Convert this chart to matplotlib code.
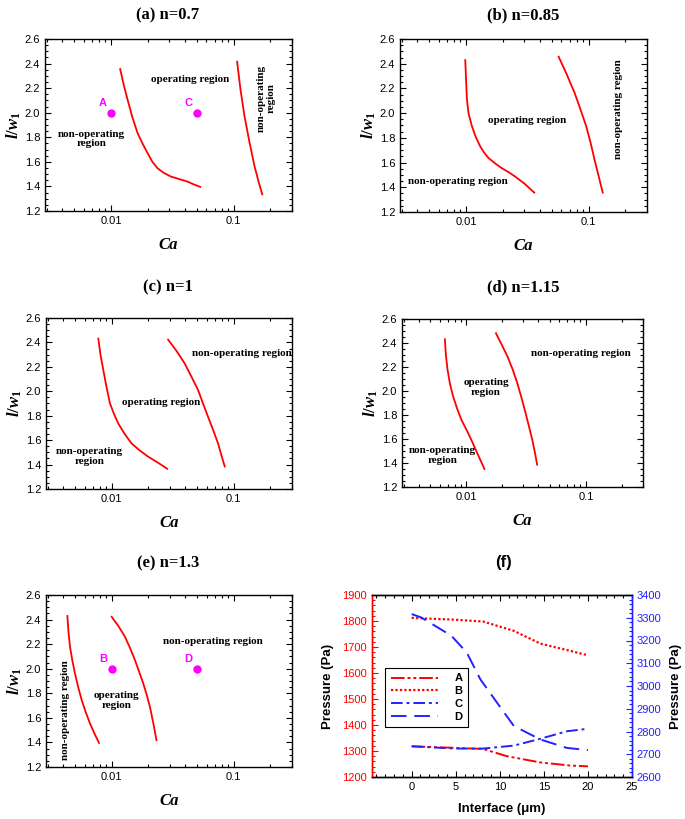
import matplotlib

matplotlib.use("Agg")

import matplotlib.pyplot as plt
from matplotlib.ticker import LogLocator, MultipleLocator, NullFormatter

plt.rcParams["font.family"] = ["Liberation Sans", "DejaVu Sans"]
plt.rcParams["mathtext.fontset"] = "custom"
plt.rcParams["mathtext.it"] = "Liberation Serif:bold:italic"
plt.rcParams["mathtext.rm"] = "Liberation Serif:bold"
plt.rcParams["mathtext.default"] = "it"

SERIF = "Liberation Serif"
RED = "#ff0000"
BLUE = "#2222ff"
MAG = "#ff00ff"

# ---- panel data: (Ca, l/w1) boundary curves ----
a_left_ca = [0.0119, 0.0127, 0.01368, 0.0150, 0.01652, 0.0182, 0.01995, 0.0218,
             0.0240, 0.027, 0.0309, 0.036, 0.0423, 0.047, 0.0535]
a_left_lw = [2.355, 2.23, 2.105, 1.96, 1.833, 1.745, 1.670, 1.60,
             1.548, 1.51, 1.480, 1.46, 1.439, 1.418, 1.396]
a_right_ca = [0.107, 0.114, 0.123, 0.135, 0.1486, 0.160, 0.1715]
a_right_lw = [2.415, 2.19, 1.969, 1.76, 1.562, 1.44, 1.336]

b_left_ca = [0.00988, 0.0100, 0.01019, 0.0105, 0.01119, 0.0120, 0.01306, 0.0141,
             0.01528, 0.0175, 0.0196, 0.0225, 0.0251, 0.030, 0.0361]
b_left_lw = [2.429, 2.30, 2.112, 2.0, 1.895, 1.81, 1.732, 1.68,
             1.637, 1.59, 1.555, 1.52, 1.488, 1.43, 1.357]
b_right_ca = [0.0571, 0.066, 0.0769, 0.086, 0.0957, 0.104, 0.112, 0.121, 0.1306]
b_right_lw = [2.456, 2.32, 2.166, 2.03, 1.895, 1.76, 1.623, 1.49, 1.357]

c_left_ca = [0.00778, 0.0081, 0.00855, 0.0091, 0.00969, 0.0105, 0.01133, 0.0128,
             0.01456, 0.0170, 0.01995, 0.024, 0.0285]
c_left_lw = [2.431, 2.30, 2.172, 2.03, 1.900, 1.81, 1.736, 1.65,
             1.573, 1.515, 1.464, 1.415, 1.366]
c_right_ca = [0.0290, 0.034, 0.0397, 0.045, 0.0511, 0.056, 0.0616, 0.068,
              0.0744, 0.079, 0.0844]
c_right_lw = [2.423, 2.33, 2.227, 2.12, 2.009, 1.90, 1.791, 1.68,
              1.573, 1.48, 1.384]

d_left_ca = [0.00662, 0.00675, 0.00697, 0.0073, 0.00776, 0.0084, 0.0091, 0.0100,
             0.0110, 0.0125, 0.01418]
d_left_lw = [2.431, 2.30, 2.176, 2.06, 1.954, 1.85, 1.760, 1.68,
             1.594, 1.47, 1.350]
d_right_ca = [0.0177, 0.0198, 0.0221, 0.0244, 0.0267, 0.0290, 0.0313, 0.0335,
              0.0356, 0.0374, 0.0391]
d_right_lw = [2.481, 2.385, 2.287, 2.18, 2.065, 1.94, 1.816, 1.70,
              1.594, 1.49, 1.386]

e_left_ca = [0.00434, 0.00443, 0.00456, 0.00476, 0.00501, 0.00532, 0.00569,
             0.00614, 0.00665, 0.00725, 0.00788]
e_left_lw = [2.429, 2.30, 2.179, 2.07, 1.961, 1.85, 1.744,
             1.645, 1.554, 1.47, 1.396]
e_right_ca = [0.0100, 0.0114, 0.01285, 0.0142, 0.01552, 0.0168, 0.01815,
              0.0194, 0.0206, 0.0220, 0.0233]
e_right_lw = [2.423, 2.345, 2.260, 2.165, 2.070, 1.975, 1.880,
              1.785, 1.689, 1.55, 1.418]

pts_a_names = ["A", "C"]
pts_a_ca = [0.01, 0.05]
pts_a_lw = [2.0, 2.0]
pts_e_names = ["B", "D"]
pts_e_ca = [0.01, 0.05]
pts_e_lw = [2.0, 2.0]

# ---- panel (f): pressure along interface ----
fA_x = [0, 4.9, 8.1, 10.8, 14.6, 18.0, 20]
fA_p = [1318, 1312, 1308, 1280, 1256, 1244, 1241]
fB_x = [0, 1.3, 4.9, 8.1, 11.6, 14.6, 18.0, 20]
fB_p = [1812, 1810, 1805, 1798, 1762, 1713, 1685, 1668]
fC_x = [0, 4.9, 8.1, 11.6, 14.6, 17.6, 20]
fC_p = [2735, 2725, 2725, 2738, 2768, 2801, 2812]
fD_x = [0, 1.1, 4.5, 6.25, 7.8, 9.7, 11.6, 14.6, 17.6, 20]
fD_p = [3316, 3301, 3221, 3147, 3029, 2926, 2824, 2765, 2728, 2718]

W, H = 685, 819
fig = plt.figure(figsize=(W / 100, H / 100), dpi=100)


def px_axes(l, r, t, b):
    return fig.add_axes([l / W, 1 - b / H, (r - l) / W, (b - t) / H])


def style_ca(ax):
    ax.set_xscale("log")
    ax.set_xlim(0.0029, 0.3)
    ax.set_ylim(1.2, 2.6)
    ax.set_xticks([0.01, 0.1])
    ax.set_xticklabels(["0.01", "0.1"])
    ax.xaxis.set_minor_locator(LogLocator(base=10, subs=range(2, 10)))
    ax.xaxis.set_minor_formatter(NullFormatter())
    ax.yaxis.set_major_locator(MultipleLocator(0.2))
    ax.yaxis.set_minor_locator(MultipleLocator(0.05))
    ax.tick_params(which="both", direction="in", top=True, right=True,
                   labelsize=8, width=0.8, colors="black")
    ax.tick_params(which="major", length=4)
    ax.tick_params(which="minor", length=2)
    for s in ax.spines.values():
        s.set_linewidth(1.0)
    ax.set_xlabel("Ca", family=SERIF, fontweight="bold", style="italic",
                  fontsize=12, labelpad=8)
    ax.set_ylabel(r"$l/w_1$", fontsize=12, labelpad=1)


def region(ax, x, y, s, rot=0):
    ax.text(x, y, s, ha="center", va="center", family=SERIF,
            fontweight="bold", fontsize=8, rotation=rot, linespacing=1.1)


def curves(ax, lx, ly, rx, ry):
    ax.plot(lx, ly, color=RED, lw=1.3)
    ax.plot(rx, ry, color=RED, lw=1.3)


def points(ax, names, xs, ys):
    ax.plot(xs, ys, "o", color=MAG, ms=5, mec=MAG)
    for n, x, y in zip(names, xs, ys):
        ax.annotate(n, (x, y), xytext=(-6, 7), textcoords="offset points",
                    ha="center", va="center", color=MAG, fontsize=8,
                    fontweight="bold")


def title(x, y, s, serif=True):
    fig.text(x / W, 1 - y / H, s, ha="center", va="center", fontsize=12,
             fontweight="bold", family=SERIF if serif else "Liberation Sans")


# (a)
ax = px_axes(45, 292, 39, 211)
style_ca(ax)
curves(ax, a_left_ca, a_left_lw, a_right_ca, a_right_lw)
points(ax, pts_a_names, pts_a_ca, pts_a_lw)
region(ax, 0.0446, 2.268, "operating region")
region(ax, 0.0069, 1.785, "non-operating\nregion")
region(ax, 0.185, 2.119, "non-operating\nregion", rot=90)
title(168, 15, "(a) n=0.7")

# (b)
ax = px_axes(400, 647, 39, 212)
style_ca(ax)
curves(ax, b_left_ca, b_left_lw, b_right_ca, b_right_lw)
region(ax, 0.0316, 1.943, "operating region")
region(ax, 0.00856, 1.447, "non-operating region")
region(ax, 0.176, 2.03, "non-operating region", rot=90)
title(523, 15, "(b) n=0.85")

# (c)
ax = px_axes(46, 292, 318, 489)
style_ca(ax)
curves(ax, c_left_ca, c_left_lw, c_right_ca, c_right_lw)
region(ax, 0.0253, 1.908, "operating region")
region(ax, 0.00656, 1.464, "non-operating\nregion")
region(ax, 0.117, 2.309, "non-operating region")
title(168, 287, "(c) n=1")

# (d)
ax = px_axes(402, 643, 319, 487)
style_ca(ax)
curves(ax, d_left_ca, d_left_lw, d_right_ca, d_right_lw)
region(ax, 0.01463, 2.029, "operating\nregion")
region(ax, 0.0063, 1.461, "non-operating\nregion")
region(ax, 0.0904, 2.315, "non-operating region")
title(523, 287, "(d) n=1.15")

# (e)
ax = px_axes(46, 292, 595, 767)
style_ca(ax)
curves(ax, e_left_ca, e_left_lw, e_right_ca, e_right_lw)
points(ax, pts_e_names, pts_e_ca, pts_e_lw)
region(ax, 0.011, 1.744, "operating\nregion")
region(ax, 0.067, 2.225, "non-operating region")
region(ax, 0.00416, 1.662, "non-operating region", rot=90)
title(168, 563, "(e) n=1.3")

# (f)
ax = px_axes(372, 632, 595, 777)
ax2 = ax.twinx()
lA, = ax.plot(fA_x, fA_p, color=RED, lw=1.4,
              ls=(0, (7, 1.5, 1.5, 1.5, 1.5, 1.5)), label="A")
lB, = ax.plot(fB_x, fB_p, color=RED, lw=1.6, ls=(0, (1, 1)), label="B")
lC, = ax2.plot(fC_x, fC_p, color=BLUE, lw=1.4, ls=(0, (6, 2, 1.5, 2)), label="C")
lD, = ax2.plot(fD_x, fD_p, color=BLUE, lw=1.4, ls=(0, (8, 4)), label="D")
ax.set_xlim(-4.5, 25)
ax.set_ylim(1200, 1900)
ax2.set_ylim(2600, 3400)
ax.xaxis.set_major_locator(MultipleLocator(5))
ax.xaxis.set_minor_locator(MultipleLocator(1))
ax.yaxis.set_major_locator(MultipleLocator(100))
ax.yaxis.set_minor_locator(MultipleLocator(20))
ax2.yaxis.set_major_locator(MultipleLocator(100))
ax2.yaxis.set_minor_locator(MultipleLocator(20))
ax.tick_params(axis="x", which="both", direction="in", top=True, labelsize=8)
ax.tick_params(axis="y", which="both", direction="in", colors=RED, labelsize=8)
ax2.tick_params(axis="y", which="both", direction="in", colors=BLUE, labelsize=8)
for a in (ax, ax2):
    a.tick_params(which="major", length=4, width=0.8)
    a.tick_params(which="minor", length=2, width=0.8)
    for s in a.spines.values():
        s.set_linewidth(1.0)
    a.spines["left"].set_color(RED)
    a.spines["right"].set_color(BLUE)
ax.set_xlabel("Interface (μm)", fontweight="bold", fontsize=9.5, labelpad=8)
ax.set_ylabel("Pressure (Pa)", fontweight="bold", fontsize=9.5, labelpad=6)
ax2.set_ylabel("Pressure (Pa)", fontweight="bold", fontsize=9.5, labelpad=6)
leg = ax.legend(handles=[lA, lB, lC, lD], loc="upper left",
                bbox_to_anchor=(0.03, 0.63), fontsize=8, handlelength=4.2,
                handletextpad=1.5, fancybox=False, edgecolor="black",
                framealpha=1, borderpad=0.5, labelspacing=0.25)
leg.get_frame().set_linewidth(0.8)
for t in leg.get_texts():
    t.set_fontweight("bold")
title(503, 563, "(f)", serif=False)

fig.savefig("out.png", dpi=100)
